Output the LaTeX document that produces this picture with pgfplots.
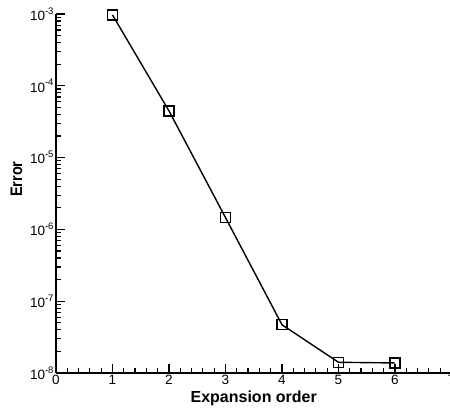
\documentclass[border=0pt]{standalone}
\usepackage{fontspec}
\setmainfont{Liberation Sans}
\usepackage{pgfplots}
\pgfplotsset{compat=1.18}
\usepackage{graphicx}

% power-of-ten tick label with a raised exponent
\newcommand{\tp}[1]{10\raisebox{0.45em}{\fontsize{9.5}{9.5}\selectfont #1}}

\begin{document}
\begin{tikzpicture}
\begin{axis}[
  at={(0,0)}, anchor=south west,
  scale only axis,
  width=395.5pt, height=359pt,
  ymode=log,
  xmin=0, xmax=7,
  ymin=1e-8, ymax=1e-3,
  axis lines=left,
  axis line style={-, line width=1.6pt},
  xtick={0,1,2,3,4,5,6,7},
  minor x tick num=4,
  ytick={1e-8,1e-7,1e-6,1e-5,1e-4,1e-3},
  yticklabels={\tp{-8},\tp{-7},\tp{-6},\tp{-5},\tp{-4},\tp{-3}},
  tick align=inside,
  major tick length=9pt,
  minor tick length=5pt,
  every tick/.style={black, line width=1.2pt},
  tick label style={font=\fontsize{13.5}{15}\selectfont},
  /pgf/number format/assume math mode=true,
  xticklabel style={yshift=1pt},
  yticklabel style={xshift=1pt},
  xlabel={\bfseries Expansion order},
  xlabel style={font=\fontsize{16}{18}\selectfont, yshift=1pt},
  ylabel={\scalebox{1}[1.15]{\bfseries Error}},
  ylabel style={font=\fontsize{14.5}{16}\selectfont,
                at={(axis description cs:-0.1,0.54)}, anchor=center},
  clip=false,
]
\addplot[black, line width=1.4pt, mark=square, mark size=5pt,
         mark options={line width=1.4pt, solid}]
  coordinates {
    (1, 9.7e-4)
    (2, 4.47e-5)
    (3, 1.46e-6)
    (4, 4.70e-8)
    (5, 1.41e-8)
    (6, 1.38e-8)
  };
\end{axis}
\pgfresetboundingbox
\path (-56pt,-37pt) rectangle (394pt,373pt);
\end{tikzpicture}
\end{document}
